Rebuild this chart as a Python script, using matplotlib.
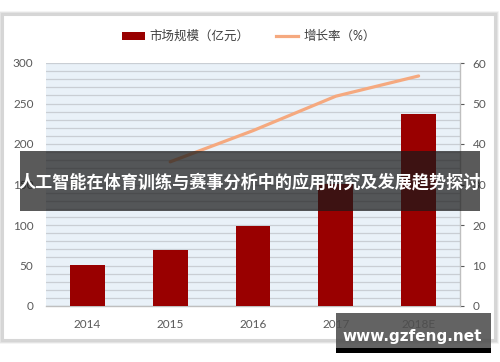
import matplotlib
matplotlib.use('Agg')
import matplotlib.pyplot as plt
import numpy as np
from matplotlib.patches import Rectangle, FancyBboxPatch, Patch
from matplotlib.lines import Line2D

years = ['2014', '2015', '2016', '2017', '2018E']
market = [51, 69, 99, 151, 237]
growth_years = ['2015', '2016', '2017', '2018E']
growth = [35.6, 43.3, 51.8, 56.8]
legend_labels = ['市场规模（亿元）', '增长率（%）']
title = '人工智能在体育训练与赛事分析中的应用研究及发展趋势探讨'
watermark = 'www.gzfeng.net'

plt.rcParams['font.family'] = ['Lato', 'Noto Sans CJK SC', 'DejaVu Sans']

W, H = 500, 362
fig = plt.figure(figsize=(5, 3.62), dpi=100)
fig.patch.set_facecolor('white')

def px(x0, y0, x1, y1):
    return [x0 / W, 1 - y1 / H, (x1 - x0) / W, (y1 - y0) / H]

# outer frame with soft shadow
for i, a in enumerate([0.05, 0.08, 0.12]):
    off = 3 - i
    r = px(3 - off, 15 - off, 495 + off, 340 + off)
    fig.patches.append(Rectangle((r[0], r[1]), r[2], r[3], transform=fig.transFigure,
                                 fc='none', ec=(0, 0, 0, a), lw=1.2, zorder=-3))
r = px(3, 15, 495, 340)
fig.patches.append(Rectangle((r[0], r[1]), r[2], r[3], transform=fig.transFigure,
                             fc='white', ec='#D6D6D6', lw=1.5, zorder=-2))

ax = fig.add_axes(px(46, 63, 460, 306))
ax.set_facecolor('#E9F1F8')
x = np.arange(len(years))
ax.bar(x, market, width=0.42, color='#990000', zorder=3)
ax.set_xlim(-0.5, len(years) - 0.5)
ax.set_ylim(0, 300)
ax.set_yticks(range(0, 301, 50))
ax.set_yticks(range(0, 301, 10), minor=True)
ax.grid(axis='y', which='both', color='#C9CED4', lw=0.9)
ax.set_axisbelow(True)
for s in ['left', 'top', 'right']:
    ax.spines[s].set_visible(False)
ax.spines['bottom'].set_color('#BFBFBF')
ax.spines['bottom'].set_linewidth(1.0)
ax.set_xticks(x)
ax.set_xticklabels(years)
ax.tick_params(axis='y', which='both', length=0, labelsize=8.5, colors='#595959', pad=9)
ax.tick_params(axis='x', length=0, labelsize=8.5, colors='#595959', pad=9)

ax2 = ax.twinx()
gidx = [years.index(y) for y in growth_years]
ax2.plot(gidx, growth, color='#F5A97F', lw=2.3, solid_capstyle='round', zorder=4)
ax2.set_ylim(0, 60)
ax2.set_yticks(range(0, 61, 10))
for s in ['left', 'top', 'bottom']:
    ax2.spines[s].set_visible(False)
ax2.spines['right'].set_color('#BFBFBF')
ax2.spines['right'].set_linewidth(1.0)
ax2.tick_params(axis='y', direction='out', length=3, color='#BFBFBF', labelsize=8.5,
                colors='#595959', pad=6)
ax2.tick_params(axis='y', colors='#595959')
for t in ax2.get_yticklines():
    t.set_color('#BFBFBF')

handles = [Patch(facecolor='#990000', edgecolor='none'),
           Line2D([0], [0], color='#F5A97F', lw=2.3)]
fig.legend(handles, legend_labels, loc='center', bbox_to_anchor=(249 / W, 1 - 36 / H),
           ncol=2, frameon=False, fontsize=9, handlelength=1.8, handleheight=0.55,
           handletextpad=0.4, columnspacing=2.1, labelcolor='#404040')

# title banner
r = px(20, 151, 480, 211)
fig.patches.append(Rectangle((r[0], r[1]), r[2], r[3], transform=fig.transFigure,
                             fc=(0.1, 0.1, 0.1, 0.72), ec='none', zorder=10))
fig.text(250 / W, 1 - 182 / H, title, ha='center', va='center', color='white',
         fontsize=12.3, fontweight='bold', family=['Noto Sans CJK SC', 'DejaVu Sans'], zorder=11)

# watermark
r = px(336, 313, 491, 348)
fig.patches.append(Rectangle((r[0], r[1]), r[2], r[3], transform=fig.transFigure,
                             fc=(0.3, 0.3, 0.3, 0.88), ec='none', zorder=10))
r = px(336, 348, 491, 353)
fig.patches.append(Rectangle((r[0], r[1]), r[2], r[3], transform=fig.transFigure,
                             fc='black', ec='none', zorder=10))
fig.text(412 / W, 1 - 336 / H, watermark, ha='center', va='center', color='white',
         fontsize=11, fontweight='bold', family=['DejaVu Sans'], zorder=11)

fig.savefig('out.png', dpi=100)
